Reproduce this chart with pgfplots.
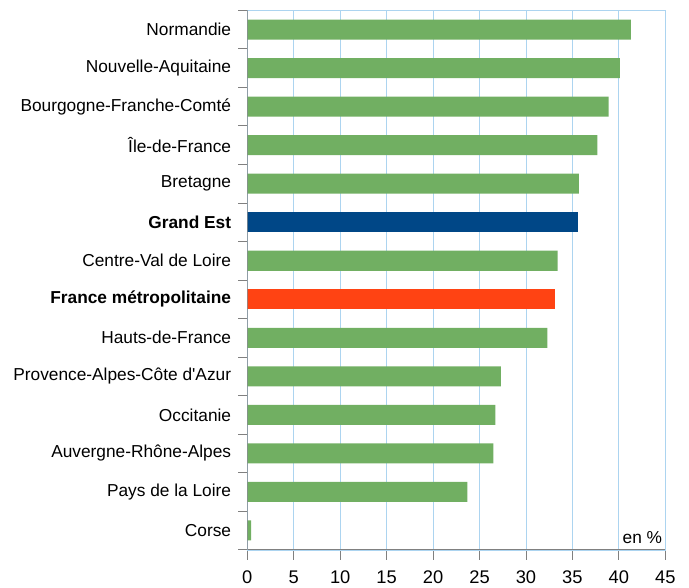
\documentclass[border=0pt]{standalone}
\usepackage{fontspec}
\setmainfont{Liberation Sans}
\usepackage{pgfplots}
\pgfplotsset{compat=1.18}

\definecolor{barGreen}{RGB}{113,175,98}
\definecolor{barBlue}{RGB}{0,71,135}
\definecolor{barRed}{RGB}{255,67,19}
\definecolor{gridBlue}{RGB}{172,212,240}
\definecolor{axisGray}{RGB}{128,128,128}

\newcommand{\chartfont}{\fontsize{17.3bp}{20bp}\selectfont}
\newcommand{\numfont}{\fontsize{18.3bp}{20bp}\selectfont}

\begin{document}
\begin{tikzpicture}
\begin{axis}[
  scale only axis,
  width=418bp, height=539.4bp,
  xmin=0, xmax=45,
  ymin=-0.5, ymax=13.5,
  y dir=reverse,
  axis line style={gridBlue},
  xtick={0,5,...,45},
  ytick={0,...,13},
  yticklabels={
    Normandie,
    Nouvelle-Aquitaine,
    Bourgogne-Franche-Comté,
    Île-de-France,
    Bretagne,
    {\textbf{Grand Est}},
    Centre-Val de Loire,
    {\textbf{France métropolitaine}},
    Hauts-de-France,
    {Provence-Alpes-Côte d\textquotesingle Azur},
    Occitanie,
    Auvergne-Rhône-Alpes,
    Pays de la Loire,
    Corse},
  minor ytick={-0.5,0.5,...,13.5},
  tick align=outside,
  xtick pos=bottom,
  ytick pos=left,
  major tick length=10bp,
  minor tick length=9bp,
  major y tick style={draw=none},
  minor y tick style={axisGray, line width=0.8pt},
  major x tick style={axisGray, line width=0.8pt},
  xmajorgrids,
  major grid style={gridBlue, line width=0.8pt},
  yticklabel style={font=\chartfont, anchor=east, inner sep=0pt, xshift=-6bp},
  xticklabel style={font=\numfont, anchor=north, inner sep=0pt, yshift=-10.5bp},
  /pgf/number format/assume math mode=true,
]
% regions
\addplot[xbar, bar width=0.52, bar shift=0pt, fill=barGreen, draw=none]
  coordinates {
    (41.3,0) (40.1,1) (38.9,2) (37.7,3) (35.7,4)
    (33.4,6) (32.3,8) (27.3,9) (26.7,10) (26.5,11)
    (23.7,12) (0.4,13)
  };
% Grand Est
\addplot[xbar, bar width=0.52, bar shift=0pt, fill=barBlue, draw=none]
  coordinates {(35.6,5)};
% France métropolitaine
\addplot[xbar, bar width=0.52, bar shift=0pt, fill=barRed, draw=none]
  coordinates {(33.1,7)};

% grey left and bottom axis lines
\draw[axisGray, line width=0.8pt] (rel axis cs:0,1) -- (rel axis cs:0,0) -- (rel axis cs:1,0);
\node[anchor=base east, inner sep=0pt, font=\chartfont]
  at (rel axis cs:1,0) [xshift=-3bp, yshift=6.7bp] {en \%};
\end{axis}
\path (current axis.south west) ++(-247.3bp,-37.3bp) coordinate (bbA);
\path (current axis.north east) ++(23.7bp,10.3bp) coordinate (bbB);
\pgfresetboundingbox
\path (bbA) rectangle (bbB);
\end{tikzpicture}
\end{document}
